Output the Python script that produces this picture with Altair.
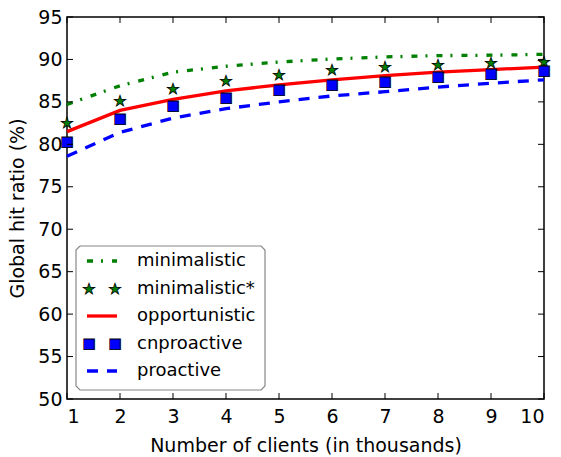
import altair as alt
import pandas as pd

# ---- data ----
clients = [1, 2, 3, 4, 5, 6, 7, 8, 9, 10]
minimalistic = [84.7, 86.9, 88.5, 89.2, 89.7, 90.05, 90.3, 90.45, 90.5, 90.6]
minimalistic_star = [82.5, 85.1, 86.5, 87.5, 88.2, 88.8, 89.1, 89.4, 89.6, 89.7]
opportunistic = [81.5, 84.0, 85.3, 86.3, 87.0, 87.6, 88.1, 88.5, 88.8, 89.1]
cnproactive = [80.3, 83.0, 84.5, 85.5, 86.4, 87.0, 87.4, 87.9, 88.3, 88.6]
proactive = [78.6, 81.4, 83.1, 84.2, 85.0, 85.7, 86.2, 86.75, 87.2, 87.6]

series_names = ["minimalistic", "minimalistic*", "opportunistic", "cnproactive", "proactive"]
x_ticks = [1, 2, 3, 4, 5, 6, 7, 8, 9, 10]
y_ticks = [50, 55, 60, 65, 70, 75, 80, 85, 90, 95]

FONT = "DejaVu Sans"
W, H = 477, 382
GREEN, RED, BLUE = "#008000", "#ff0000", "#0000ff"
SQ_SIZE = 14
STAR_SIZE = 15


def frame(vals):
    return pd.DataFrame({"n": clients, "v": vals})


xs = alt.Scale(domain=[1, 10], nice=False)
ys = alt.Scale(domain=[50, 95], nice=False, zero=False)

x_main = alt.X("n:Q", scale=xs, axis=alt.Axis(
    values=x_ticks, title="Number of clients (in thousands)", ticks=False,
    domain=False, grid=False, labelPadding=8, titlePadding=10))
y_main = alt.Y("v:Q", scale=ys, axis=alt.Axis(
    values=y_ticks, title="Global hit ratio (%)", ticks=False,
    domain=False, grid=False, labelPadding=5, titlePadding=10))
x_plain = alt.X("n:Q", scale=xs)
y_plain = alt.Y("v:Q", scale=ys)

line_min = alt.Chart(frame(minimalistic)).mark_line(
    color=GREEN, strokeWidth=3.3, strokeDash=[6, 8, 2, 9]).encode(x=x_main, y=y_main)
line_opp = alt.Chart(frame(opportunistic)).mark_line(
    color=RED, strokeWidth=3.3).encode(x=x_plain, y=y_plain)
line_pro = alt.Chart(frame(proactive)).mark_line(
    color=BLUE, strokeWidth=3.3, strokeDash=[11, 9]).encode(x=x_plain, y=y_plain)

# markers drawn as outlined glyphs
stars = alt.Chart(frame(minimalistic_star)).mark_text(
    text="\u2605", font=FONT, fontSize=STAR_SIZE, fill=GREEN, stroke="black", strokeWidth=0.8,
    align="center", baseline="middle").encode(x=x_plain, y=y_plain)
squares = alt.Chart(frame(cnproactive)).mark_text(
    text="\u25A0", font=FONT, fontSize=SQ_SIZE, fill=BLUE, stroke="black", strokeWidth=0.8,
    align="center", baseline="middle").encode(x=x_plain, y=y_plain)

# ---- inward ticks on all four sides (short line segments) ----
TL = 6
df_xt = pd.DataFrame([{"n": t, "py": p, "side": s} for t in x_ticks
                      for s, pair in (("b", (H, H - TL)), ("t", (0, TL))) for p in pair])
df_yt = pd.DataFrame([{"v": t, "px": p, "side": s} for t in y_ticks
                      for s, pair in (("l", (0, TL)), ("r", (W, W - TL))) for p in pair])
xticks_layer = alt.Chart(df_xt).mark_line(color="black", strokeWidth=1).encode(
    x=x_plain, y=alt.Y("py:Q", scale=None), detail=["n:Q", "side:N"])
yticks_layer = alt.Chart(df_yt).mark_line(color="black", strokeWidth=1).encode(
    y=y_plain, x=alt.X("px:Q", scale=None), detail=["v:Q", "side:N"])

# ---- legend (drawn in pixel space of the plot area) ----
LX0, LX1, LY0, LY1 = 9, 198, 229, 373
row_y = [244, 272, 299, 327, 354]
sym_c = 35
lab_x = 70

df_box = pd.DataFrame({"px": [LX0 + 4, LX1 - 4, LX1, LX1, LX1 - 4, LX0 + 4, LX0, LX0, LX0 + 4],
                       "py": [LY0, LY0, LY0 + 4, LY1 - 4, LY1, LY1, LY1 - 4, LY0 + 4, LY0],
                       "i": list(range(9))})
box = alt.Chart(df_box).mark_line(color="#888888", strokeWidth=1.2).encode(
    x=alt.X("px:Q", scale=None), y=alt.Y("py:Q", scale=None), order="i:Q")

df_labels = pd.DataFrame({"label": series_names, "px": [lab_x] * 5, "py": row_y})
labels = alt.Chart(df_labels).mark_text(
    font=FONT, fontSize=18, color="black", align="left", baseline="middle").encode(
    x=alt.X("px:Q", scale=None), y=alt.Y("py:Q", scale=None), text="label:N")


def seg(row):
    return pd.DataFrame({"px": [sym_c - 15, sym_c + 15], "py": [row_y[row]] * 2})


leg_min = alt.Chart(seg(0)).mark_line(color=GREEN, strokeWidth=3.3, strokeDash=[6, 8, 2, 9]).encode(
    x=alt.X("px:Q", scale=None), y=alt.Y("py:Q", scale=None))
leg_opp = alt.Chart(seg(2)).mark_line(color=RED, strokeWidth=3.3).encode(
    x=alt.X("px:Q", scale=None), y=alt.Y("py:Q", scale=None))
leg_pro = alt.Chart(seg(4)).mark_line(color=BLUE, strokeWidth=3.3, strokeDash=[11, 9]).encode(
    x=alt.X("px:Q", scale=None), y=alt.Y("py:Q", scale=None))

df_lstar = pd.DataFrame({"px": [sym_c - 13, sym_c + 13], "py": [row_y[1]] * 2})
df_lsq = pd.DataFrame({"px": [sym_c - 13, sym_c + 13], "py": [row_y[3]] * 2})
leg_star = alt.Chart(df_lstar).mark_text(
    text="\u2605", font=FONT, fontSize=STAR_SIZE, fill=GREEN, stroke="black", strokeWidth=0.8,
    align="center", baseline="middle").encode(
    x=alt.X("px:Q", scale=None), y=alt.Y("py:Q", scale=None))
leg_sq = alt.Chart(df_lsq).mark_text(
    text="\u25A0", font=FONT, fontSize=SQ_SIZE, fill=BLUE, stroke="black", strokeWidth=0.8,
    align="center", baseline="middle").encode(
    x=alt.X("px:Q", scale=None), y=alt.Y("py:Q", scale=None))

chart = alt.layer(
    line_min, line_opp, line_pro, stars, squares, xticks_layer, yticks_layer,
    box, labels, leg_min, leg_opp, leg_pro, leg_star, leg_sq,
).properties(
    width=W, height=H, padding=0,
).configure_view(stroke="black", strokeWidth=1.5).configure_axis(
    labelFont=FONT, titleFont=FONT, labelFontSize=19, titleFontSize=19,
    labelColor="black", titleColor="black", titleFontWeight="normal",
)

chart.save("out.html", embed_options={"renderer": "svg", "actions": False})
